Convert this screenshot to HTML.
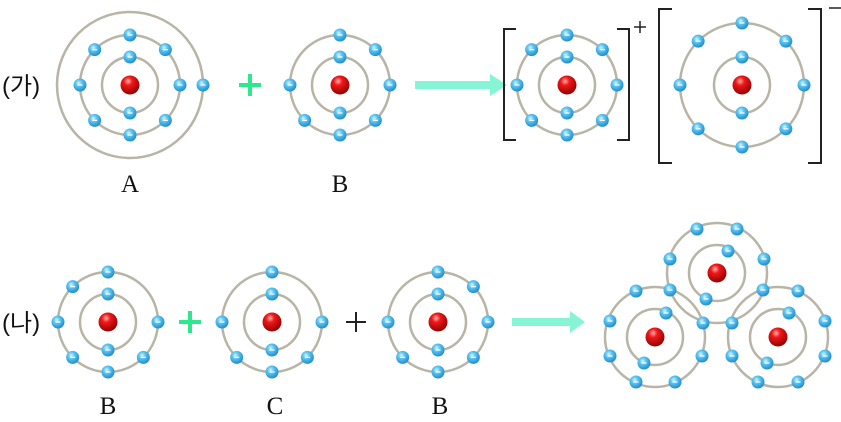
<!DOCTYPE html>
<html><head><meta charset="utf-8"><style>
html,body{margin:0;padding:0;background:#fff;}
svg{display:block;}
.l{font-family:"Liberation Serif",serif;font-size:25px;fill:#111;text-anchor:middle;}
.k{font-family:"Liberation Sans","Noto Sans CJK KR",sans-serif;font-size:24px;fill:#111;}
</style></head><body>
<svg id="s" width="841" height="422" viewBox="0 0 841 422" xmlns="http://www.w3.org/2000/svg">
<defs>
<radialGradient id="ge" cx="0.4" cy="0.35" r="0.7"><stop offset="0" stop-color="#d8f4ff"/><stop offset="0.35" stop-color="#5cc6f2"/><stop offset="1" stop-color="#1a86c8"/></radialGradient>
<radialGradient id="gn" cx="0.4" cy="0.3" r="0.75"><stop offset="0" stop-color="#ffb0b0"/><stop offset="0.3" stop-color="#f01818"/><stop offset="1" stop-color="#8a0000"/></radialGradient>
</defs>
<g id="rings" fill="none" stroke="#b8b4a6" stroke-width="2.5"></g>
<g id="parts"></g>
<text class="k" x="2" y="94">(가)</text>
<text class="k" x="2" y="331">(나)</text>
<text class="l" x="130" y="192">A</text>
<text class="l" x="340" y="192">B</text>
<text class="l" x="108" y="414">B</text>
<text class="l" x="275" y="414">C</text>
<text class="l" x="440" y="414">B</text>
<g stroke="#2ee88e" stroke-width="4"><line x1="239" y1="85" x2="261" y2="85"/><line x1="250" y1="74" x2="250" y2="96"/><line x1="179" y1="322" x2="201" y2="322"/><line x1="190" y1="311" x2="190" y2="333"/></g>
<g stroke="#222" stroke-width="2"><line x1="346" y1="322" x2="366" y2="322"/><line x1="356" y1="312" x2="356" y2="332"/></g>
<g fill="#86f5d6"><rect x="415" y="81" width="77" height="8"/><polygon points="490,74 507,85 490,96"/><rect x="512" y="318" width="60" height="8"/><polygon points="570,311 585,322 570,333"/></g>
<g fill="none" stroke="#222" stroke-width="2"><polyline points="516,29 504,29 504,140 516,140"/><polyline points="617,29 629,29 629,140 617,140"/><polyline points="672,9 659,9 659,163 672,163"/><polyline points="808,9 821,9 821,163 808,163"/></g>
<g stroke="#222" stroke-width="1.5"><line x1="634" y1="27" x2="646" y2="27"/><line x1="640" y1="21" x2="640" y2="33"/><line x1="829" y1="8" x2="841" y2="8"/></g>
</svg>
<script>
var R=document.getElementById('rings'),P=document.getElementById('parts'),ns='http://www.w3.org/2000/svg';
function ring(x,y,r){var c=document.createElementNS(ns,'circle');c.setAttribute('cx',x);c.setAttribute('cy',y);c.setAttribute('r',r);R.appendChild(c);}
function e(x,y){var c=document.createElementNS(ns,'circle');c.setAttribute('cx',x);c.setAttribute('cy',y);c.setAttribute('r',6.5);c.setAttribute('fill','url(#ge)');P.appendChild(c);
var l=document.createElementNS(ns,'line');l.setAttribute('x1',x-2.5);l.setAttribute('x2',x+2.5);l.setAttribute('y1',y);l.setAttribute('y2',y);l.setAttribute('stroke','#fff');l.setAttribute('stroke-width','1.2');P.appendChild(l);}
function n(x,y){var c=document.createElementNS(ns,'circle');c.setAttribute('cx',x);c.setAttribute('cy',y);c.setAttribute('r',9.5);c.setAttribute('fill','url(#gn)');P.appendChild(c);}
var queue=[];
function full(x,y,ro,skip){skip=skip||[];ring(x,y,28);ring(x,y,ro);queue.push(function(){n(x,y);e(x,y-28);e(x,y+28);for(var k=0;k<8;k++){if(skip.indexOf(k)>=0)continue;var a=k*Math.PI/4;e(x+ro*Math.sin(a),y-ro*Math.cos(a));}});}
full(130,85,50);ring(130,85,73);queue.push(function(){e(203,85);});
full(340,85,50,[7]);full(567,85,50);full(742,85,62);
full(108,322,50,[1]);full(272,322,50,[1,7]);full(438,322,50,[7]);
[[717,273],[655,337],[778,337]].forEach(function(p){ring(p[0],p[1],28);ring(p[0],p[1],50);});
queue.push(function(){
[[717,273],[655,337],[778,337]].forEach(function(p){n(p[0],p[1]);});
[[697,229],[737,229],[670,259],[764,259],[670,290],[763,290],[728,251],[706,299],[703,323],[732,323],
[636,291],[610,321],[610,356],[636,382],[675,382],[702,356],[666,313],[644,363],
[798,291],[825,321],[825,356],[798,382],[758,382],[732,356],[789,313],[767,363]].forEach(function(p){e(p[0],p[1]);});
});
queue.forEach(function(f){f();});
</script>
</body></html>
